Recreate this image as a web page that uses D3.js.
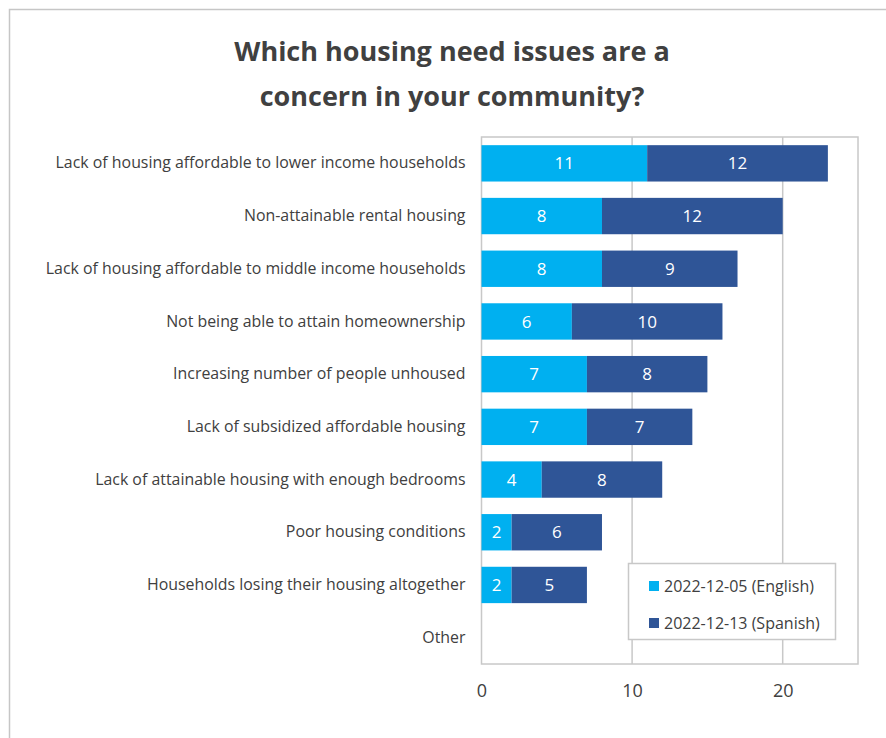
<!DOCTYPE html>
<html>
<head>
<meta charset="utf-8">
<script src="https://cdn.jsdelivr.net/npm/d3@7"></script>
<style>
  body { margin: 0; background: #fff; }
  svg { display: block; font-family: "Open Sans", "Noto Sans", sans-serif; }
</style>
</head>
<body>
<svg id="chart" width="886" height="738"></svg>
<script>
var categories = [
  "Lack of housing affordable to lower income households",
  "Non-attainable rental housing",
  "Lack of housing affordable to middle income households",
  "Not being able to attain homeownership",
  "Increasing number of people unhoused",
  "Lack of subsidized affordable housing",
  "Lack of attainable housing with enough bedrooms",
  "Poor housing conditions",
  "Households losing their housing altogether",
  "Other"
];
var english = [11, 8, 8, 6, 7, 7, 4, 2, 2, 0];
var spanish = [12, 12, 9, 10, 8, 7, 8, 6, 5, 0];
var seriesNames = ["2022-12-05 (English)", "2022-12-13 (Spanish)"];
var seriesColors = ["#00b0f0", "#2f5597"];
var xTicks = [0, 10, 20];

var svg = d3.select("#chart");

// outer frame
svg.append("rect")
  .attr("x", 9.5).attr("y", 9.5)
  .attr("width", 900).attr("height", 760)
  .attr("fill", "none").attr("stroke", "#c6c6c6").attr("stroke-width", 1.5);

// title
var title = svg.append("text")
  .attr("text-anchor", "middle")
  .attr("fill", "#404040")
  .style("font-weight", "bold")
  .style("font-size", "27px");
title.append("tspan").attr("x", 452).attr("y", 61).text("Which housing need issues are a");
title.append("tspan").attr("x", 452).attr("y", 106).text("concern in your community?");

// plot area (window.top is read-only, so use other names)
var plotL = 481.5, plotR = 858, plotT = 137, plotB = 664;

var x = d3.scaleLinear().domain([0, 25]).range([plotL, plotR]);
var y = d3.scaleBand().domain(categories).range([plotT, plotB]).paddingInner(0.31).paddingOuter(0.155);

// grid
svg.append("g")
  .selectAll("line")
  .data(xTicks.slice(1))
  .enter().append("line")
    .attr("x1", function(d) { return x(d); })
    .attr("x2", function(d) { return x(d); })
    .attr("y1", plotT).attr("y2", plotB)
    .attr("stroke", "#c8c8c8").attr("stroke-width", 1.5);

svg.append("rect")
  .attr("x", plotL).attr("y", plotT)
  .attr("width", plotR - plotL).attr("height", plotB - plotT)
  .attr("fill", "none").attr("stroke", "#c8c8c8").attr("stroke-width", 1.5);

// stacked bars
var rows = categories.map(function(c, i) { return { cat: c, e: english[i], s: spanish[i] }; });
var stack = d3.stack().keys(["e", "s"])(rows);

var layers = svg.append("g").selectAll("g")
  .data(stack)
  .enter().append("g")
    .attr("fill", function(d, i) { return seriesColors[i]; });

layers.selectAll("rect")
  .data(function(d) { return d; })
  .enter().append("rect")
    .attr("x", function(d) { return x(d[0]); })
    .attr("y", function(d) { return y(d.data.cat); })
    .attr("width", function(d) { return x(d[1]) - x(d[0]); })
    .attr("height", y.bandwidth());

layers.selectAll("text")
  .data(function(d) { return d.filter(function(v) { return v[1] - v[0] > 0; }); })
  .enter().append("text")
    .attr("x", function(d) { return (x(d[0]) + x(d[1])) / 2; })
    .attr("y", function(d) { return y(d.data.cat) + y.bandwidth() / 2; })
    .attr("dy", "0.36em")
    .attr("text-anchor", "middle")
    .attr("fill", "#fff")
    .style("font-size", "17px")
    .text(function(d) { return d[1] - d[0]; });

// category labels
var yAxis = svg.append("g")
  .attr("transform", "translate(" + (plotL - 16) + ",0)")
  .call(d3.axisLeft(y).tickSize(0).tickPadding(0));
yAxis.select(".domain").remove();
yAxis.selectAll("text")
  .attr("fill", "#404040")
  .style("font-size", "15.9px")
  .style("font-family", "'Open Sans', sans-serif");

// x axis labels
var xAxis = svg.append("g")
  .attr("transform", "translate(0," + plotB + ")")
  .call(d3.axisBottom(x).tickValues(xTicks).tickSize(0).tickPadding(20));
xAxis.select(".domain").remove();
xAxis.selectAll("text")
  .attr("fill", "#404040")
  .style("font-size", "18px")
  .style("font-family", "'Open Sans', sans-serif");

// legend
var lg = svg.append("g").attr("transform", "translate(628,563)");
lg.append("rect")
  .attr("x", 0.5).attr("y", 0.5).attr("width", 207).attr("height", 76)
  .attr("fill", "#fff").attr("stroke", "#c8c8c8").attr("stroke-width", 1.5);
var items = lg.selectAll("g.item")
  .data(seriesNames)
  .enter().append("g")
    .attr("class", "item")
    .attr("transform", function(d, i) { return "translate(21," + (18 + i * 37) + ")"; });
items.append("rect")
  .attr("width", 10).attr("height", 10)
  .attr("fill", function(d, i) { return seriesColors[i]; });
items.append("text")
  .attr("x", 15).attr("y", 5).attr("dy", "0.36em")
  .attr("fill", "#404040")
  .style("font-size", "16px")
  .text(function(d) { return d; });
</script>
</body>
</html>
